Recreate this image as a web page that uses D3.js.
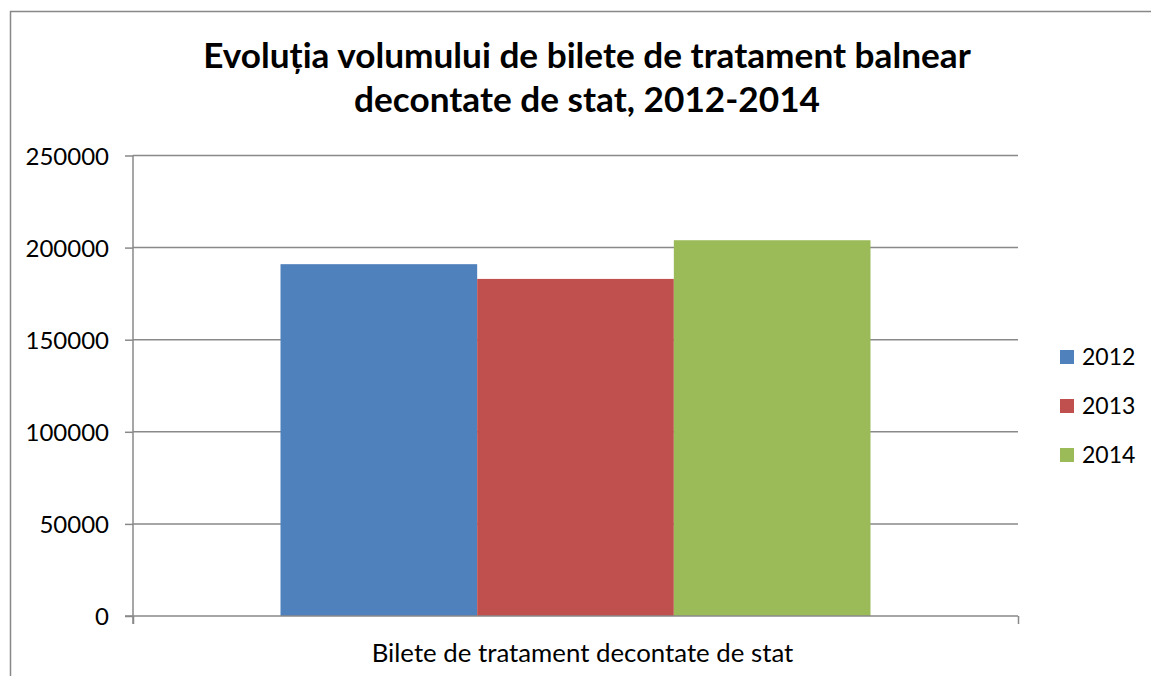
<!DOCTYPE html>
<html>
<head>
<meta charset="utf-8">
<script src="https://cdn.jsdelivr.net/npm/d3@7"></script>
<style>
  body { margin: 0; background: #fff; }
  svg text { font-family: Lato, "Open Sans", sans-serif; fill: #000; }
</style>
</head>
<body>
<svg id="chart" width="1151" height="676"></svg>
<script>
const categories = ["Bilete de tratament decontate de stat"];
const years = ["2012", "2013", "2014"];
const values = [191000, 183000, 204000];
const colors = ["#4f81bd", "#c0504d", "#9bbb59"];
const yTicks = [0, 50000, 100000, 150000, 200000, 250000];
const titleLines = ["Evoluția volumului de bilete de tratament balnear", "decontate de stat, 2012-2014"];

const svg = d3.select("#chart");
const m = { left: 133, right: 1018, top: 155.5, bottom: 616 };

// outer chart frame
svg.append("rect")
  .attr("x", 10.5).attr("y", 11.5)
  .attr("width", 1160).attr("height", 700)
  .attr("fill", "none").attr("stroke", "#888").attr("stroke-width", 1.5);

// title
svg.append("g").selectAll("text")
  .data(titleLines)
  .enter().append("text")
  .attr("x", 587).attr("y", (d, i) => 68 + i * 44)
  .attr("text-anchor", "middle")
  .style("font-size", "35.2px").style("font-weight", "bold")
  .text(d => d);

const y = d3.scaleLinear().domain([0, 250000]).range([m.bottom, m.top]);
const x0 = d3.scaleBand().domain(categories).range([m.left, m.right]).paddingInner(0).paddingOuter(0.25);
const x1 = d3.scaleBand().domain(years).range([0, x0.bandwidth()]);

// gridlines
svg.append("g").selectAll("line")
  .data(yTicks.filter(t => t > 0))
  .enter().append("line")
  .attr("x1", m.left).attr("x2", m.right)
  .attr("y1", d => y(d)).attr("y2", d => y(d))
  .attr("stroke", "#898989").attr("stroke-width", 1.5);

// bars
svg.append("g").selectAll("rect")
  .data(values)
  .enter().append("rect")
  .attr("x", (d, i) => x0(categories[0]) + x1(years[i]))
  .attr("width", x1.bandwidth())
  .attr("y", d => y(d))
  .attr("height", d => y(0) - y(d))
  .attr("fill", (d, i) => colors[i]);

// y axis
const yAxis = svg.append("g")
  .attr("transform", `translate(${m.left},0)`)
  .call(d3.axisLeft(y).tickValues(yTicks).tickSize(8).tickPadding(16).tickFormat(d3.format("d")));
yAxis.selectAll("line").attr("stroke", "#898989").attr("stroke-width", 1.5);
yAxis.select(".domain").attr("stroke", "#898989").attr("stroke-width", 1.5).attr("d", `M0,${m.top}V${m.bottom + 8}`);
yAxis.selectAll("text").style("font-size", "24px").attr("dy", "0.36em");

// x axis
const xAxis = svg.append("g")
  .attr("transform", `translate(0,${m.bottom})`)
  .call(d3.axisBottom(d3.scaleLinear().domain([0, 1]).range([m.left, m.right])).tickValues([0, 1]).tickSize(8).tickFormat(""));
xAxis.selectAll("line").attr("stroke", "#898989").attr("stroke-width", 1.5);
xAxis.select(".domain").attr("stroke", "#898989").attr("stroke-width", 1.5).attr("d", `M${m.left - 8},0H${m.right}`);

svg.append("text")
  .attr("x", x0(categories[0]) + x0.bandwidth() / 2 + 7).attr("y", 662)
  .attr("text-anchor", "middle")
  .style("font-size", "25.8px")
  .text(categories[0]);

// legend
const legend = svg.append("g").selectAll("g")
  .data(years)
  .enter().append("g")
  .attr("transform", (d, i) => `translate(1060,${350 + i * 49})`);
legend.append("rect").attr("width", 14).attr("height", 14).attr("fill", (d, i) => colors[i]);
legend.append("text").attr("x", 22).attr("y", 7).attr("dy", "0.36em")
  .style("font-size", "23px").text(d => d);
</script>
</body>
</html>
